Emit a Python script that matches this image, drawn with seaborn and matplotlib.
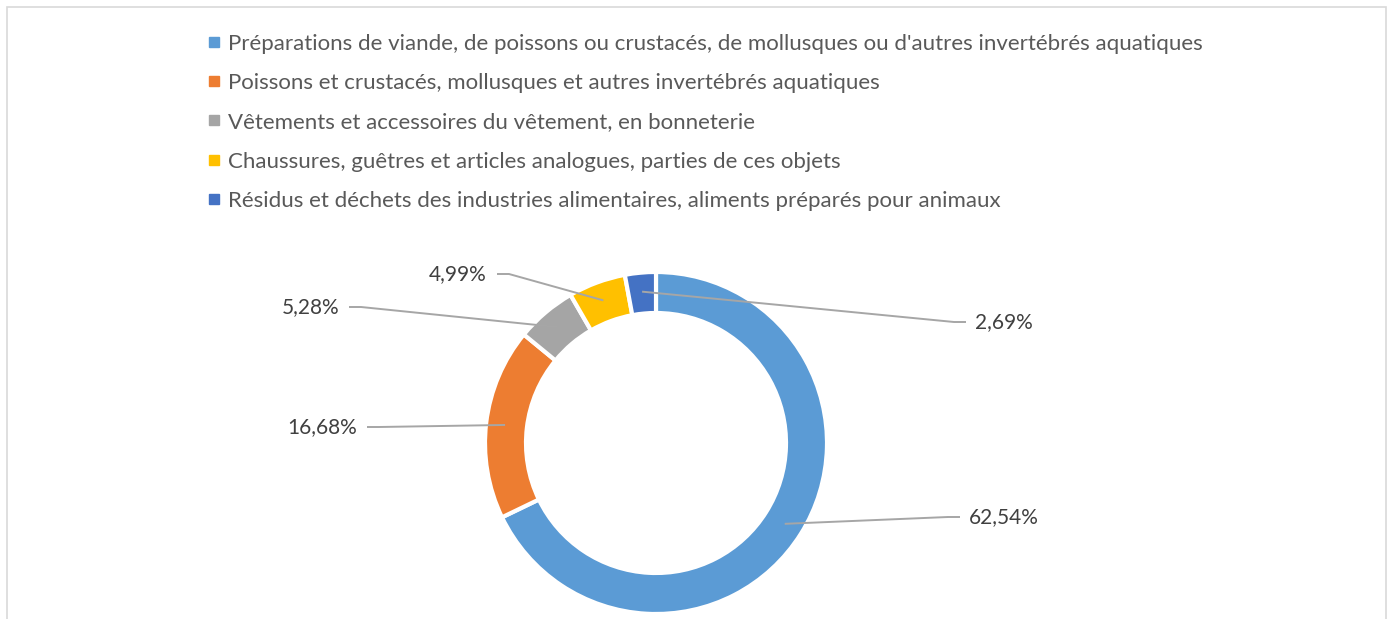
import numpy as np
import matplotlib.pyplot as plt
import seaborn as sns
from matplotlib.lines import Line2D
from matplotlib.patches import Rectangle

# Data
categories = [
    "Préparations de viande, de poissons ou crustacés, de mollusques ou d'autres invertébrés aquatiques",
    "Poissons et crustacés, mollusques et autres invertébrés aquatiques",
    "Vêtements et accessoires du vêtement, en bonneterie",
    "Chaussures, guêtres et articles analogues, parties de ces objets",
    "Résidus et déchets des industries alimentaires, aliments préparés pour animaux",
]
shares = [62.54, 16.68, 5.28, 4.99, 2.69]
share_labels = ["62,54%", "16,68%", "5,28%", "4,99%", "2,69%"]
colors = ["#5B9BD5", "#ED7D31", "#A5A5A5", "#FFC000", "#4472C4"]

sns.set_style("white")
plt.rcParams['font.family'] = ['Lato', 'DejaVu Sans']

W, H = 1389, 619
fig = plt.figure(figsize=(W / 100, H / 100), dpi=100)
ax = fig.add_axes([0, 0, 1, 1])

# chart frame (pixel coords, y measured from bottom)
ax.add_patch(Rectangle((7, -10), 1379, H - 7 + 10, fill=False, edgecolor="#D9D9D9", lw=1.2))

cx, cy, R = 656, H - 443, 171
wedges, _ = ax.pie(
    shares, colors=sns.color_palette(colors), startangle=90, counterclock=False,
    center=(cx, cy), radius=R, frame=True,
    wedgeprops=dict(width=41, edgecolor="white", linewidth=3),
)
ax.set_xlim(0, W)
ax.set_ylim(0, H)
ax.set_aspect('equal')
ax.axis('off')

# label text positions (layout) and leader lines with a short elbow
label_pos = [(969, H - 517), (357, H - 427), (339, H - 307), (487, H - 274), (975, H - 322)]
label_ha = ["left", "right", "right", "right", "left"]
for w, lab, (tx, ty), ha in zip(wedges, share_labels, label_pos, label_ha):
    mid = np.deg2rad((w.theta1 + w.theta2) / 2)
    px, py = cx + 152 * np.cos(mid), cy + 152 * np.sin(mid)
    if ha == "left":
        x0, x1 = tx - 9, tx - 21
    else:
        x0, x1 = tx + 10, tx + 22
    ax.plot([x0, x1, px], [ty, ty, py], color="#A6A6A6", lw=1.4,
            solid_capstyle="butt", solid_joinstyle="miter")
    ax.text(tx, ty, lab, ha=ha, va="center", fontsize=15, color="#404040")

handles = [Line2D([], [], marker='s', linestyle='', markersize=7, color=c) for c in colors]
fig.legend(handles, categories, loc='upper left', bbox_to_anchor=(196 / W, 1 - 22.5 / H),
           frameon=False, fontsize=16, labelcolor="#595959", handlelength=0.6,
           handletextpad=0.35, labelspacing=0.87, borderpad=0)

fig.savefig("out.png", dpi=100)
